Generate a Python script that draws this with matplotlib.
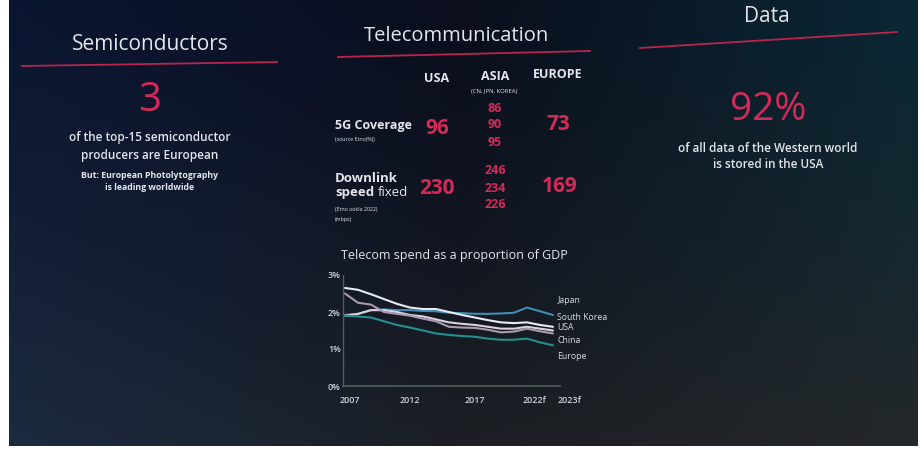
import numpy as np
import matplotlib.pyplot as plt
from matplotlib.colors import to_rgb
from matplotlib.transforms import ScaledTranslation

plt.rcParams['font.family'] = ['Open Sans', 'DejaVu Sans']

# telecom spend as % of GDP
years = np.arange(2007, 2024)
japan = [1.92, 1.95, 2.05, 2.07, 2.05, 2.05, 2.03, 2.02, 1.98, 1.97, 1.95, 1.95, 1.96, 1.98, 2.12, 2.02, 1.92]
south_korea = [2.65, 2.6, 2.48, 2.35, 2.22, 2.12, 2.08, 2.08, 2.0, 1.92, 1.85, 1.78, 1.72, 1.7, 1.72, 1.65, 1.6]
usa = [1.9, 1.95, 2.05, 2.05, 2.0, 1.92, 1.88, 1.8, 1.72, 1.68, 1.65, 1.6, 1.55, 1.55, 1.6, 1.55, 1.5]
china = [2.5, 2.25, 2.2, 2.0, 1.95, 1.9, 1.82, 1.75, 1.6, 1.58, 1.57, 1.52, 1.45, 1.47, 1.55, 1.48, 1.42]
europe = [1.9, 1.88, 1.85, 1.75, 1.65, 1.58, 1.5, 1.42, 1.38, 1.35, 1.33, 1.28, 1.25, 1.25, 1.28, 1.18, 1.1]
series_names = ['Japan', 'South Korea', 'USA', 'China', 'Europe']
series = [japan, south_korea, usa, china, europe]

x_ticks = [2007, 2012, 2017, 2022, 2023]
x_labels = ['2007', '2012', '2017', '2022f', '2023f']
y_ticks = [0, 1, 2, 3]
y_labels = ['0%', '1%', '2%', '3%']

# table values
table_cols = ['USA', 'ASIA', 'EUROPE']
coverage_usa, coverage_asia, coverage_eu = 96, [86, 90, 95], 73
speed_usa, speed_asia, speed_eu = 230, [246, 234, 226], 169

RED = '#d42a58'
LINE_RED = '#b8254c'
WHITE = '#e4e6ec'

fig = plt.figure(figsize=(9.24, 4.49), dpi=100, facecolor='white')
bg = fig.add_axes([0, 0, 1, 1])
bg.axis('off')

# slide background gradient (photo of a projected slide)
W, H = 300, 150
top = [to_rgb(c) for c in ('#0b1632', '#0a0e1d', '#0a2834')]
bot = [to_rgb(c) for c in ('#1c2b40', '#1c1f24', '#24282a')]
xs = np.linspace(0, 1, W)
img = np.zeros((H, W, 3))
for ch in range(3):
    t = np.interp(xs, [0, 0.5, 1], [c[ch] for c in top])
    b = np.interp(xs, [0, 0.5, 1], [c[ch] for c in bot])
    ys = np.linspace(0, 1, H)[:, None] ** 1.3
    img[:, :, ch] = t[None, :] * (1 - ys) + b[None, :] * ys
bg.imshow(img, extent=[9, 918, 446, 0], aspect='auto', zorder=0)
bg.set_xlim(0, 924)
bg.set_ylim(449, 0)

# section headers and red rules
bg.text(150, 45, 'Semiconductors', color=WHITE, fontsize=15, ha='center', va='center')
bg.plot([22, 277], [66, 62], color=LINE_RED, lw=1.3)
bg.text(457, 36, 'Telecommunication', color=WHITE, fontsize=14.5, ha='center', va='center')
bg.plot([338, 590], [57, 51], color=LINE_RED, lw=1.3)
bg.text(767, 16, 'Data', color=WHITE, fontsize=15, ha='center', va='center')
bg.plot([640, 897], [48, 32], color=LINE_RED, lw=1.3)

# semiconductors block
bg.text(150, 101, '3', color=RED, fontsize=29, ha='center', va='center')
bg.text(150, 137, 'of the top-15 semiconductor', color=WHITE, fontsize=8.5,
        fontweight='semibold', ha='center', va='center')
bg.text(150, 155, 'producers are European', color=WHITE, fontsize=8.5,
        fontweight='semibold', ha='center', va='center')
bg.text(150, 176, 'But: European Photolytography', color=WHITE, fontsize=6.3,
        fontweight='bold', ha='center', va='center')
bg.text(150, 187, 'is leading worldwide', color=WHITE, fontsize=6.3,
        fontweight='bold', ha='center', va='center')

# data block
bg.text(768, 110, '92%', color=RED, fontsize=28, ha='center', va='center')
bg.text(768, 148, 'of all data of the Western world', color=WHITE, fontsize=8.5,
        fontweight='semibold', ha='center', va='center')
bg.text(768, 165, 'is stored in the USA', color=WHITE, fontsize=8.5,
        fontweight='semibold', ha='center', va='center')

# telecom table
col_x = [437, 495, 558]
head_y = [79, 77, 74]
for cx, hy, name in zip(col_x, head_y, table_cols):
    bg.text(cx, hy, name, color=WHITE, fontsize=9, fontweight='bold', ha='center', va='center')
bg.text(494, 91, '(CN, JPN, KOREA)', color=WHITE, fontsize=4.2, ha='center', va='center')

bg.text(335, 126, '5G Coverage', color=WHITE, fontsize=9, fontweight='bold', ha='left', va='center')
bg.text(335, 139, '(source Etno(%))', color=WHITE, fontsize=3.8, ha='left', va='center')
bg.text(col_x[0], 128, str(coverage_usa), color=RED, fontsize=15, fontweight='bold', ha='center', va='center')
for v, yy in zip(coverage_asia, [108, 125, 143]):
    bg.text(col_x[1], yy, str(v), color=RED, fontsize=9, fontweight='bold', ha='center', va='center')
bg.text(col_x[2], 125, str(coverage_eu), color=RED, fontsize=15, fontweight='bold', ha='center', va='center')

bg.text(335, 178, 'Downlink', color=WHITE, fontsize=9.5, fontweight='bold', ha='left', va='center')
sp = bg.text(335, 196, 'speed', color=WHITE, fontsize=9.5, fontweight='bold', ha='left', va='baseline')
bg.annotate('fixed', xy=(1, 0), xycoords=sp, xytext=(2.5, 0), textcoords='offset points',
            color=WHITE, fontsize=9.5, ha='left', va='bottom')
bg.text(335, 209, '(Etno ookla 2022)', color=WHITE, fontsize=3.8, ha='left', va='center')
bg.text(335, 219, '(mbps)', color=WHITE, fontsize=3.8, ha='left', va='center')
bg.text(col_x[0], 188, str(speed_usa), color=RED, fontsize=15, fontweight='bold', ha='center', va='center')
for v, yy in zip(speed_asia, [170, 188, 205]):
    bg.text(col_x[1], yy, str(v), color=RED, fontsize=9, fontweight='bold', ha='center', va='center')
bg.text(col_x[2] + 2, 186, str(speed_eu), color=RED, fontsize=15, fontweight='bold', ha='center', va='center')

# line chart
bg.text(341, 255, 'Telecom spend as a proportion of GDP', color=WHITE, fontsize=9,
        ha='left', va='center')

ax = fig.add_axes([343 / 924, 1 - 386 / 449, (560 - 343) / 924, (386 - 275) / 449])
ax.patch.set_alpha(0)
colors = ['#3f8db5', '#e6ecf2', '#dcd2de', '#a99aae', '#23908f']
for vals, c in zip(series, colors):
    ax.plot(years, vals, color=c, lw=1.5, solid_capstyle='round')
ax.set_xlim(2006.85, 2023.54)
ax.set_ylim(0, 3)

label_y = [2.3, 1.86, 1.57, 1.24, 0.81]
for name, ly in zip(series_names, label_y):
    ax.annotate(name, xy=(years[-1], ly), xytext=(3, 0), textcoords='offset points',
                color='#d6dae2', fontsize=6.3, ha='left', va='center', annotation_clip=False)

for s in ('top', 'right'):
    ax.spines[s].set_visible(False)
ax.spines['left'].set_color('#4d5c6a')
ax.spines['bottom'].set_color('#4e5c58')
ax.spines['left'].set_linewidth(1.0)
ax.spines['bottom'].set_linewidth(1.2)

ax.set_yticks(y_ticks)
ax.set_yticklabels(y_labels)
ax.set_xticks(x_ticks)
ax.set_xticklabels(x_labels)
ax.tick_params(length=0, colors='#cfd3da', labelsize=6.5)
ax.tick_params(axis='y', pad=1.5)
ax.tick_params(axis='x', pad=7)
for lab in ax.get_xticklabels() + ax.get_yticklabels():
    lab.set_fontweight('semibold')
xl = ax.get_xticklabels()
xl[0].set_transform(xl[0].get_transform() + ScaledTranslation(0.05, 0, fig.dpi_scale_trans))
xl[3].set_transform(xl[3].get_transform() + ScaledTranslation(-0.05, 0, fig.dpi_scale_trans))
xl[4].set_transform(xl[4].get_transform() + ScaledTranslation(0.17, 0, fig.dpi_scale_trans))

fig.savefig('out.png', dpi=100)
